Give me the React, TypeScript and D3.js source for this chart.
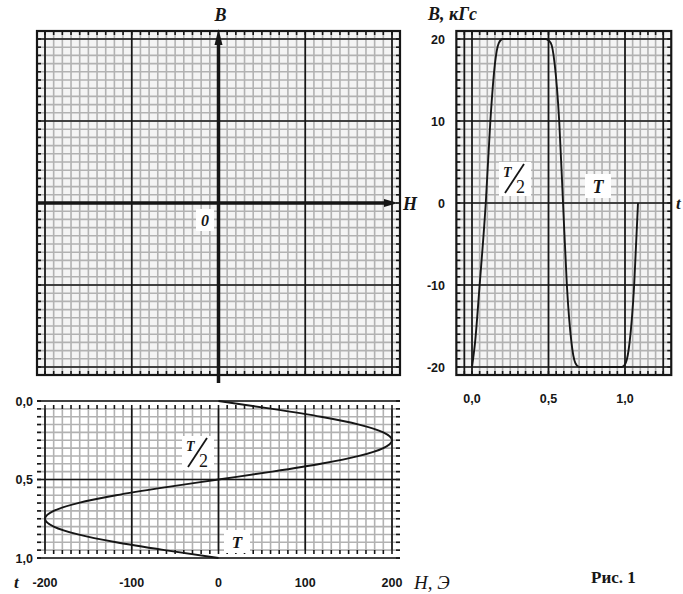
import React, { useRef, useEffect } from 'react';
import * as d3 from 'd3';

// B(t), kGs
const tB = [0.0, 0.02, 0.05, 0.09, 0.12, 0.15, 0.175, 0.2, 0.3, 0.4, 0.48, 0.515, 0.54, 0.57, 0.595, 0.62, 0.65, 0.675, 0.7, 0.8, 0.9, 0.98, 1.005, 1.03, 1.06, 1.085];
const bValues = [-20, -17, -10, 0, 10, 17, 19.5, 20, 20, 20, 20, 19.5, 17, 10, 0, -10, -17, -19.5, -20, -20, -20, -20, -19.5, -17, -10, 0];

// H(t), Oe
const tH = [0, 0.05, 0.1, 0.15, 0.2, 0.25, 0.3, 0.35, 0.4, 0.45, 0.5, 0.55, 0.6, 0.65, 0.7, 0.75, 0.8, 0.85, 0.9, 0.95, 1.0];
const hValues = [0, 62, 118, 162, 190, 200, 190, 162, 118, 62, 0, -62, -118, -162, -190, -200, -190, -162, -118, -62, 0];

const bTicks = [20, 10, 0, -10, -20];
const bTickLabels = ['20', '10', '0', '-10', '-20'];
const tTicks = [0, 0.5, 1.0];
const tTickLabels = ['0,0', '0,5', '1,0'];
const hTicks = [-200, -100, 0, 100, 200];
const hTickLabels = ['-200', '-100', '0', '100', '200'];

const INK = '#161616';
const SERIF = '"Liberation Serif", "DejaVu Serif", serif';
const SANS = '"Liberation Sans", Arial, sans-serif';

const steps = (a: number, b: number, step: number) => {
  const n = Math.round((b - a) / step);
  return d3.range(n + 1).map((i) => a + i * step);
};

// graph-paper panel: minor grid, tick strip, major lines, frame
const drawPanel = (svg, xs, ys, xDom, yDom, xStep, yStep, xMajor, yMajor) => {
  const pad = 8;
  const left = xs(xDom[0]) - pad;
  const right = xs(xDom[1]) + pad;
  const top = ys(yDom[1]) - pad;
  const bottom = ys(yDom[0]) + pad;
  const g = svg.append('g');

  g.append('rect')
    .attr('x', left).attr('y', top)
    .attr('width', right - left).attr('height', bottom - top)
    .style('fill', '#f4f4f4');

  const xMinor = steps(xDom[0], xDom[1], xStep);
  const yMinor = steps(yDom[0], yDom[1], yStep);

  g.selectAll('.vx').data(xMinor).enter().append('line')
    .attr('x1', (d) => xs(d)).attr('x2', (d) => xs(d))
    .attr('y1', top).attr('y2', bottom)
    .style('stroke', '#b2b2b2').style('stroke-width', 1.6);
  g.selectAll('.hy').data(yMinor).enter().append('line')
    .attr('y1', (d) => ys(d)).attr('y2', (d) => ys(d))
    .attr('x1', left).attr('x2', right)
    .style('stroke', '#b2b2b2').style('stroke-width', 1.6);

  // short ticks inside the strip
  const tk = 4;
  xMinor.forEach((d) => {
    g.append('line').attr('x1', xs(d)).attr('x2', xs(d)).attr('y1', top).attr('y2', top + tk)
      .style('stroke', INK).style('stroke-width', 1.6);
    g.append('line').attr('x1', xs(d)).attr('x2', xs(d)).attr('y1', bottom - tk).attr('y2', bottom)
      .style('stroke', INK).style('stroke-width', 1.6);
  });
  yMinor.forEach((d) => {
    g.append('line').attr('y1', ys(d)).attr('y2', ys(d)).attr('x1', left).attr('x2', left + tk)
      .style('stroke', INK).style('stroke-width', 1.6);
    g.append('line').attr('y1', ys(d)).attr('y2', ys(d)).attr('x1', right - tk).attr('x2', right)
      .style('stroke', INK).style('stroke-width', 1.6);
  });

  // major lines + inner frame
  [xDom[0], ...xMajor, xDom[1]].forEach((d) => {
    g.append('line').attr('x1', xs(d)).attr('x2', xs(d)).attr('y1', top).attr('y2', bottom)
      .style('stroke', INK).style('stroke-width', 1.7);
  });
  [yDom[0], ...yMajor, yDom[1]].forEach((d) => {
    g.append('line').attr('y1', ys(d)).attr('y2', ys(d)).attr('x1', left).attr('x2', right)
      .style('stroke', INK).style('stroke-width', 1.7);
  });

  g.append('rect')
    .attr('x', left).attr('y', top)
    .attr('width', right - left).attr('height', bottom - top)
    .style('fill', 'none').style('stroke', INK).style('stroke-width', 2.2);
};

const italicLabel = (svg, text, x, y, size, anchor = 'start', weight = 'bold') =>
  svg.append('text').text(text)
    .attr('x', x).attr('y', y)
    .attr('text-anchor', anchor)
    .style('font-family', SERIF).style('font-style', 'italic').style('font-weight', weight)
    .style('font-size', `${size}px`).style('fill', INK);

const boxedLabel = (svg, text, x, y, w, h, size) => {
  svg.append('rect').attr('x', x).attr('y', y).attr('width', w).attr('height', h).style('fill', '#fff');
  italicLabel(svg, text, x + w / 2, y + h - 5, size, 'middle');
};

// "T/2" written as a slashed fraction on a white patch
const halfT = (svg, x, y) => {
  svg.append('rect').attr('x', x).attr('y', y).attr('width', 32).attr('height', 34).style('fill', '#fff');
  italicLabel(svg, 'T', x + 4, y + 15, 14);
  svg.append('line').attr('x1', x + 6).attr('y1', y + 31).attr('x2', x + 25).attr('y2', y + 2)
    .style('stroke', INK).style('stroke-width', 1.8);
  svg.append('text').text('2').attr('x', x + 17).attr('y', y + 31)
    .style('font-family', SERIF).style('font-size', '18px').style('fill', INK);
};

const tickText = (sel) =>
  sel.style('font-family', SANS).style('font-weight', 'bold').style('font-size', '12.5px').style('fill', INK);

const App = () => {
  const svgRef = useRef(null);

  useEffect(() => {
    const svg = d3.select(svgRef.current);
    svg.selectAll('*').remove();

    const xH = d3.scaleLinear().domain([-200, 200]).range([45, 392]);
    const yB = d3.scaleLinear().domain([-20, 20]).range([367, 39]);
    const xT = d3.scaleLinear().domain([0, 1]).range([472, 625]);
    const yT = d3.scaleLinear().domain([0, 1]).range([401, 558]);

    // ---- top-left: empty B(H) plane
    drawPanel(svg, xH, yB, [-200, 200], [-20, 20], 10, 1, [-100, 100], [-10, 10]);

    svg.append('line').attr('x1', xH(0)).attr('x2', xH(0)).attr('y1', 40).attr('y2', 383)
      .style('stroke', INK).style('stroke-width', 3.5);
    svg.append('path')
      .attr('d', `M${xH(0)},29 L${xH(0) - 4},45 L${xH(0) + 4},45 Z`).style('fill', INK);
    svg.append('line').attr('x1', 37).attr('x2', 388).attr('y1', yB(0)).attr('y2', yB(0))
      .style('stroke', INK).style('stroke-width', 3.5);
    svg.append('path')
      .attr('d', `M398,${yB(0)} L384,${yB(0) - 4} L384,${yB(0) + 4} Z`).style('fill', INK);

    italicLabel(svg, 'B', xH(0) + 2, 21, 18, 'middle');
    italicLabel(svg, 'H', 403, yB(0) + 7, 18);
    boxedLabel(svg, '0', 196, 209, 18, 22, 16);

    // ---- right: B(t)
    drawPanel(svg, xT, yB, [-0.05, 1.25], [-20, 20], 0.05, 1, [0, 0.5, 1.0], [-10, 0, 10]);

    const lineB = d3.line()
      .x((d) => xT(d[0]))
      .y((d) => yB(d[1]))
      .curve(d3.curveMonotoneX);
    svg.append('path')
      .attr('d', lineB(tB.map((t, i) => [t, bValues[i]])))
      .style('fill', 'none').style('stroke', INK).style('stroke-width', 1.9);

    tickText(svg.selectAll('.bt').data(bTicks).enter().append('text')
      .text((d, i) => bTickLabels[i])
      .attr('x', 445).attr('y', (d) => yB(d) + 4.5)
      .attr('text-anchor', 'end'));
    tickText(svg.selectAll('.tt').data(tTicks).enter().append('text')
      .text((d, i) => tTickLabels[i])
      .attr('x', (d) => xT(d)).attr('y', 403)
      .attr('text-anchor', 'middle'));

    italicLabel(svg, 'B, кГс', 428, 20, 18);
    italicLabel(svg, 't', 676, 209, 17);
    halfT(svg, 499, 162);
    boxedLabel(svg, 'T', 585, 174, 26, 24, 18);

    // ---- bottom: H(t), time running downwards
    drawPanel(svg, xH, yT, [-200, 200], [0, 1], 10, 0.05, [-100, 0, 100], [0.5]);

    const lineH = d3.line()
      .x((d) => xH(d[1]))
      .y((d) => yT(d[0]))
      .curve(d3.curveMonotoneY);
    svg.append('path')
      .attr('d', lineH(tH.map((t, i) => [t, hValues[i]])))
      .style('fill', 'none').style('stroke', INK).style('stroke-width', 1.9);

    tickText(svg.selectAll('.ty').data(tTicks).enter().append('text')
      .text((d, i) => tTickLabels[i])
      .attr('x', 33).attr('y', (d) => yT(d) + 4.5)
      .attr('text-anchor', 'end'));
    tickText(svg.selectAll('.hx').data(hTicks).enter().append('text')
      .text((d, i) => hTickLabels[i])
      .attr('x', (d) => xH(d)).attr('y', 587)
      .attr('text-anchor', 'middle'));

    italicLabel(svg, 't', 14, 588, 17);
    italicLabel(svg, 'H, Э', 414, 589, 19, 'start', 'normal');
    halfT(svg, 182, 436);
    boxedLabel(svg, 'T', 224, 530, 26, 23, 17);

    svg.append('text').text('Рис. 1')
      .attr('x', 591).attr('y', 583)
      .style('font-family', SERIF).style('font-weight', 'bold').style('font-size', '17px').style('fill', INK);
  }, []);

  return (
    <div style={{ position: 'absolute', left: 0, top: 0 }}>
      <svg ref={svgRef} width="683" height="594" style={{ display: 'block', background: '#fff' }}></svg>
    </div>
  );
};

export default App;
